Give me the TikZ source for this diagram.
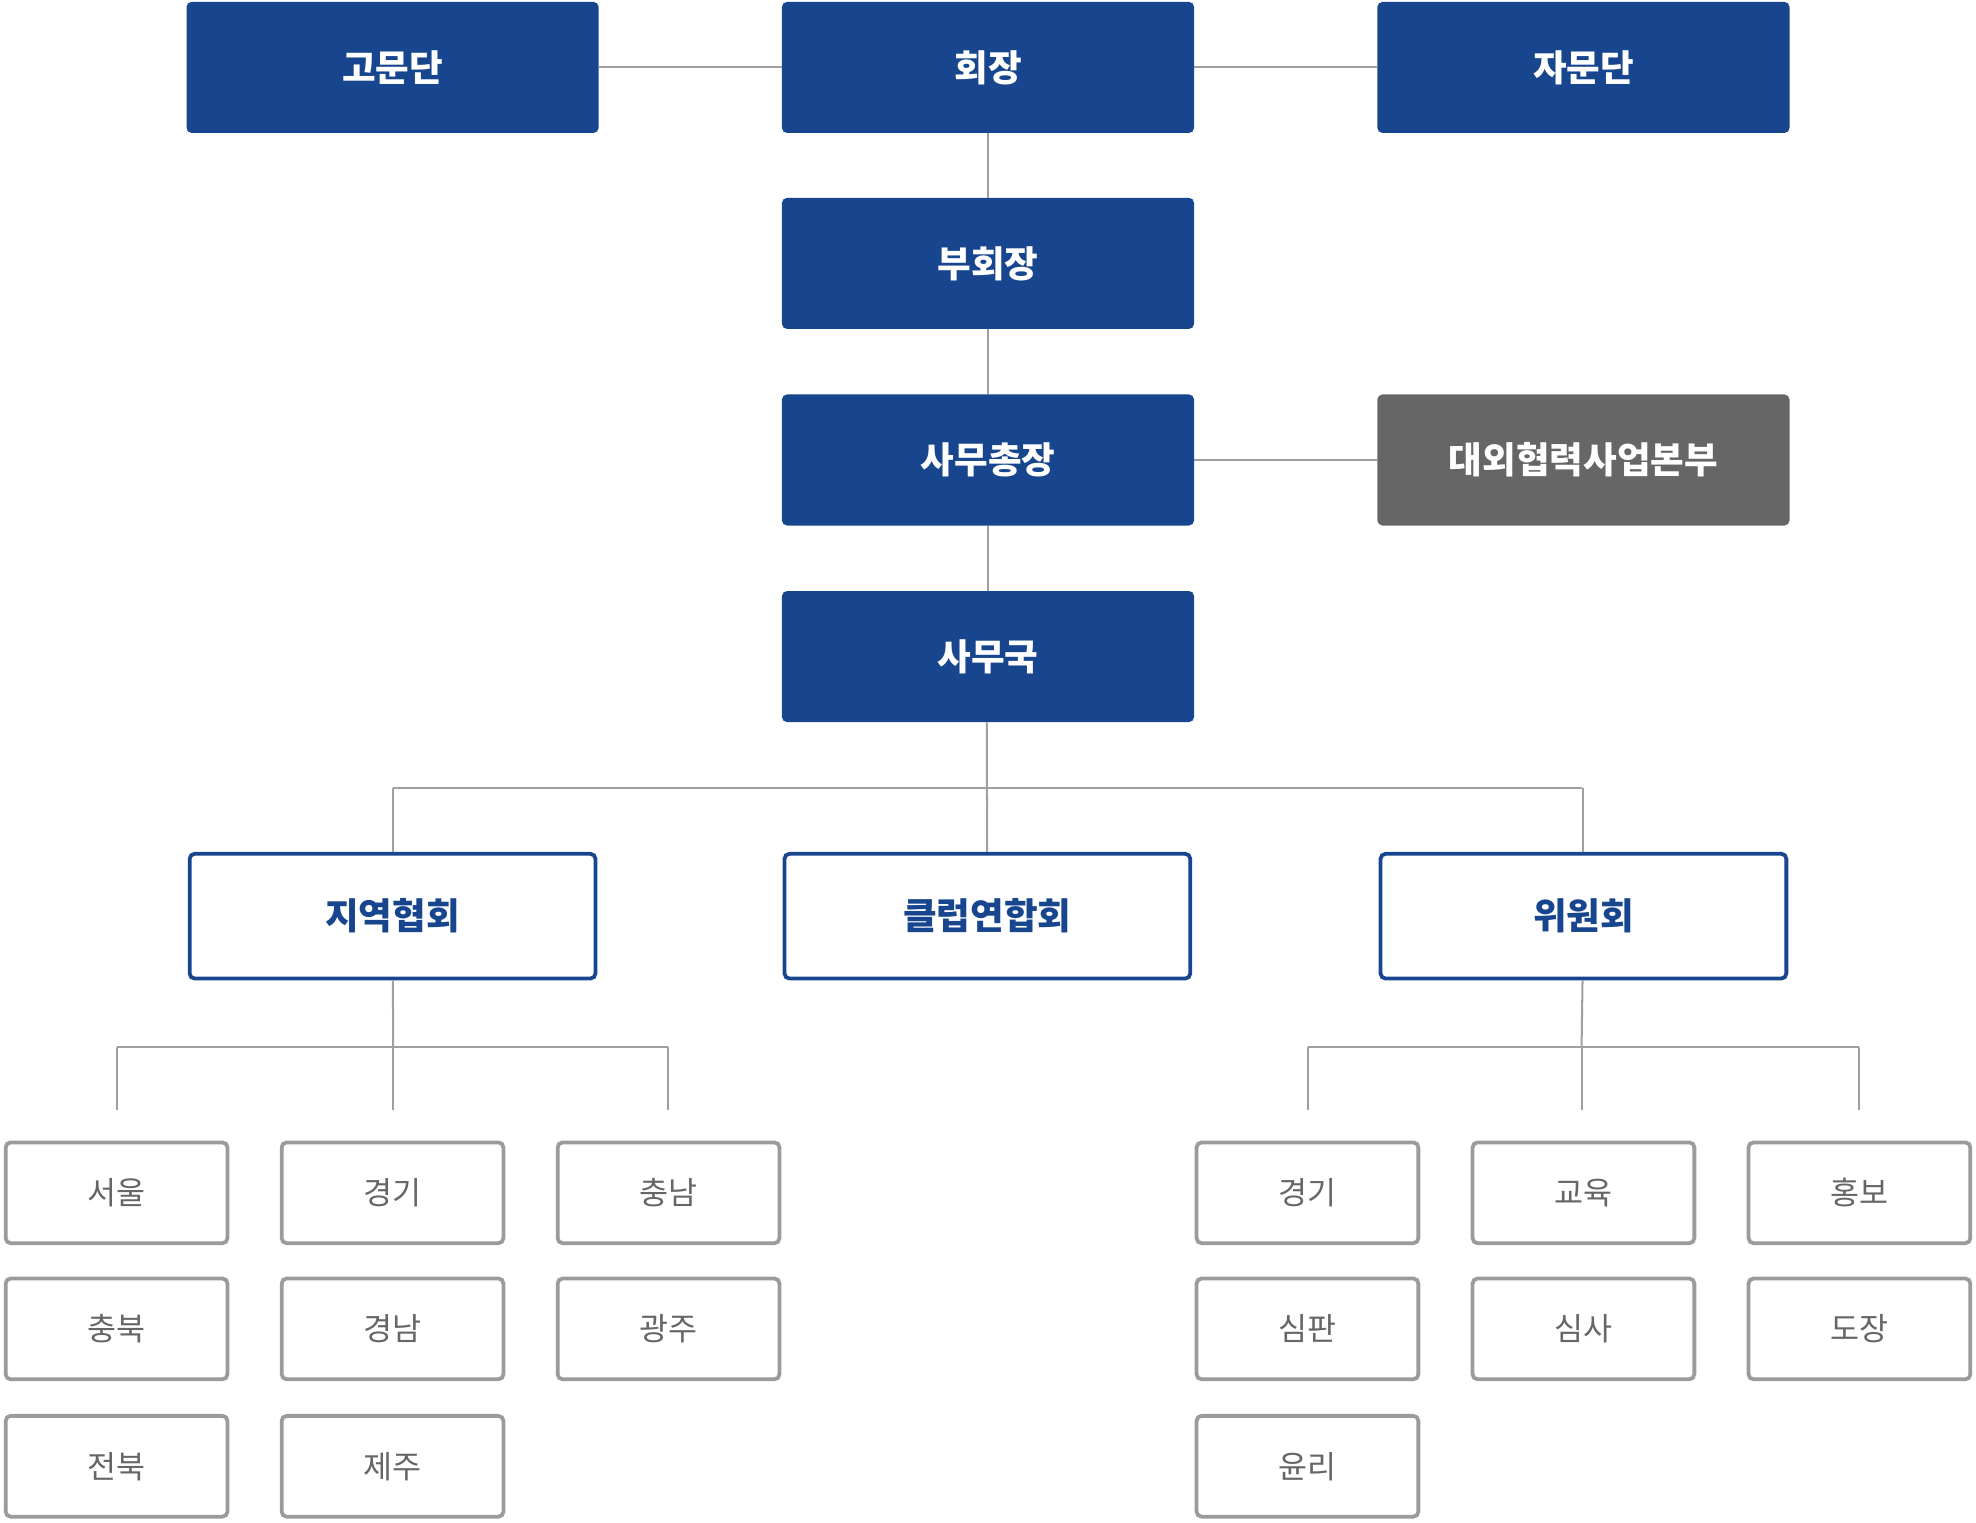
\documentclass[tikz,border=0pt]{standalone}
\usepackage{fontspec}
\setmainfont{Noto Sans CJK KR}
\definecolor{orgblue}{RGB}{23, 70, 143}
\definecolor{orggray}{RGB}{102, 102, 102}
\definecolor{linegray}{RGB}{160, 160, 160}
\definecolor{boxgray}{RGB}{155, 155, 155}
\tikzset{
  headbox/.style={fill=orgblue, text=white, rounded corners=4pt, minimum width=327pt, minimum height=104pt, inner sep=0, font=\fontsize{29pt}{29pt}\selectfont\bfseries},
  sidebox/.style={headbox, fill=orggray},
  unitbox/.style={draw=orgblue, line width=3pt, text=orgblue, fill=white, rounded corners=4pt, minimum width=322pt, minimum height=99pt, inner sep=0, font=\fontsize{29pt}{29pt}\selectfont\bfseries},
  subbox/.style={draw=boxgray, line width=3pt, text=orggray, fill=white, rounded corners=4pt, minimum width=176pt, minimum height=80pt, inner sep=0, font=\fontsize{25pt}{25pt}\selectfont},
  link/.style={draw=linegray, line width=1.6pt}
}
\begin{document}
\begin{tikzpicture}[x=1pt,y=-1pt]
\useasboundingbox (0,0) rectangle (1568,1208);
% branch points
\coordinate (bus) at (783,625);
\coordinate (lbus) at (312,831);
\coordinate (rbus) at (1255,831);
% lines first
\draw [link] (312,625) -- (1255,625);
\draw [link] (93,831) -- (530,831);
\draw [link] (1038,831) -- (1475,831);
\foreach \x in {93,312,530} \draw [link] (\x,831) -- (\x,881);
\foreach \x in {1038,1255,1475} \draw [link] (\x,831) -- (\x,881);
% top boxes
\node [headbox] (goh) at (311.5,53.5) {고문단};
\node [headbox] (pres) at (784,53.5) {회장};
\node [headbox] (jam) at (1256.5,53.5) {자문단};
\node [headbox] (vice) at (784,209) {부회장};
\node [headbox] (secg) at (784,365) {사무총장};
\node [sidebox] (ext) at (1256.5,365) {대외협력사업본부};
\node [headbox] (off) at (784,521) {사무국};
\node [unitbox] (reg) at (311.5,727) {지역협회};
\node [unitbox] (club) at (783.5,727) {클럽연합회};
\node [unitbox] (com) at (1256.5,727) {위원회};
% connectors
\draw [link] (goh) -- (pres);
\draw [link] (pres) -- (jam);
\draw [link] (pres) -- (vice);
\draw [link] (vice) -- (secg);
\draw [link] (secg) -- (ext);
\draw [link] (secg) -- (off);
\draw [link] (off.south -| bus) -- (club);
\draw [link] (bus -| reg) -- (reg);
\draw [link] (bus -| com) -- (com);
\draw [link] (reg) -- (lbus);
\draw [link] (com) -- (rbus);
% regional
\node [subbox] (seoul) at (92.5,946.5) {서울};
\node [subbox] (gyeonggi) at (311.5,946.5) {경기};
\node [subbox] (chungnam) at (530.5,946.5) {충남};
\node [subbox] (chungbuk) at (92.5,1054.5) {충북};
\node [subbox] (gyeongnam) at (311.5,1054.5) {경남};
\node [subbox] (gwangju) at (530.5,1054.5) {광주};
\node [subbox] (jeonbuk) at (92.5,1163.5) {전북};
\node [subbox] (jeju) at (311.5,1163.5) {제주};
% committees
\node [subbox] (match) at (1037.5,946.5) {경기};
\node [subbox] (edu) at (1256.5,946.5) {교육};
\node [subbox] (pr) at (1475.5,946.5) {홍보};
\node [subbox] (judge) at (1037.5,1054.5) {심판};
\node [subbox] (review) at (1256.5,1054.5) {심사};
\node [subbox] (dojang) at (1475.5,1054.5) {도장};
\node [subbox] (ethics) at (1037.5,1163.5) {윤리};
\end{tikzpicture}
\end{document}
